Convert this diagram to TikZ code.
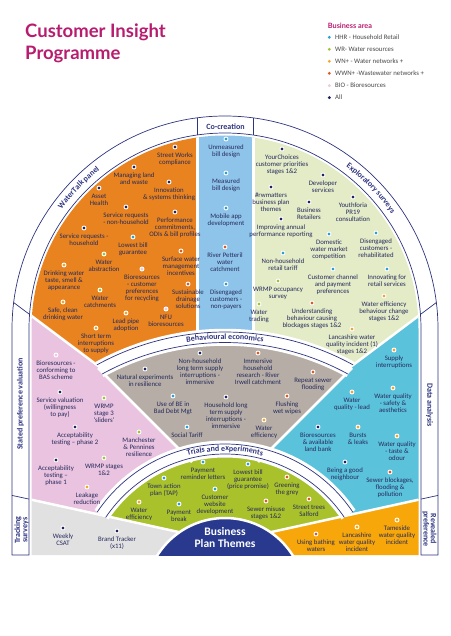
\documentclass[tikz,border=0pt]{standalone}
\usepackage{fontspec}
\setmainfont{Carlito}
\newfontfamily\titlefont{Lato}
\usetikzlibrary{positioning,decorations.text}

\definecolor{linec}{HTML}{2E3480}
\definecolor{txtc}{HTML}{262A5C}
\definecolor{titlec}{HTML}{B71C6E}
\definecolor{wtorange}{HTML}{E8831F}
\definecolor{ccblue}{HTML}{8EC4E9}
\definecolor{exgreen}{HTML}{E3EBC7}
\definecolor{sppink}{HTML}{E9C3DF}
\definecolor{tsgray}{HTML}{E1E1E1}
\definecolor{begray}{HTML}{B5ADA6}
\definecolor{dateal}{HTML}{5BC2DC}
\definecolor{rporange}{HTML}{F7A70A}
\definecolor{telime}{HTML}{A9C22B}
\definecolor{bpblue}{HTML}{293A8E}
\definecolor{hhr}{HTML}{2F9FD0}
\definecolor{wr}{HTML}{A4C13A}
\definecolor{wn}{HTML}{F0A72E}
\definecolor{wwn}{HTML}{D95B27}
\definecolor{bio}{HTML}{EBC9DF}
\definecolor{allc}{HTML}{1F2360}

\tikzset{
  itemdot/.style={circle, inner sep=0pt, minimum size=4pt, draw=white, line width=0.9pt},
  txt/.style={align=center, inner sep=0pt, text=txtc, font=\fontsize{6.8}{7}\selectfont},
  whitegap/.style={white, line width=2.5pt},
  bandline/.style={linec, line width=0.7pt},
  bandlabel/.style={inner sep=0pt, text=linec, font=\bfseries\fontsize{8}{7.2}\selectfont},
  legdot/.style={circle, inner sep=0pt, minimum size=3.2pt},
  legtxt/.style={anchor=base west, inner sep=0pt, text=black!72, font=\fontsize{6.8}{8}\selectfont}
}

\begin{document}
\begin{tikzpicture}[x=1pt,y=-1pt]
\useasboundingbox (0,0) rectangle (450,636);
\coordinate (top) at (225,329); % centre of outer ring
\coordinate (bot) at (225,598); % centre of inner rings

% title and legend
\node[anchor=base west, inner sep=0pt, text=titlec, font=\titlefont\bfseries\fontsize{18.5}{22}\selectfont] (title1) at (25,37.3) {Customer Insight};
\node[anchor=base west, inner sep=0pt, text=titlec, font=\titlefont\bfseries\fontsize{18.5}{22}\selectfont] (title2) at (25,60) {Programme};
\node[anchor=base west, inner sep=0pt, text=titlec, font=\titlefont\bfseries\fontsize{7.3}{9}\selectfont] (legtitle) at (327.7,28.6) {Business area};
\foreach \y/\c/\t [count=\i] in {37.3/hhr/{HHR - Household Retail}, 49.3/wr/{WR- Water resources}, 61.3/wn/{WN+ - Water networks +}, 73.3/wwn/{WWN+ -Wastewater networks +}, 85.6/bio/{BIO - Bioresources}, 97.6/allc/{All}}
{
  \node[legdot, fill=\c] (ld\i) at (329.3,\y) {};
  \node[legtxt] (lt\i) at (335,\y+2.3) {\t};
}

% coloured areas
\begin{scope}
  \clip (31.5,555) -- (31.5,329) arc[start angle=180, end angle=360, radius=193.5] -- (418.5,555) -- cycle;
  \fill[wtorange] (0,80) -- (197.5,80) -- (197.5,440.4) -- (0,292.25) -- cycle;
  \fill[ccblue] (197.5,80) rectangle (253.5,470);
  \fill[exgreen] (253.5,80) -- (450,80) -- (450,292.25) -- (253.5,439.6) -- cycle;
  \fill[sppink] (0,292.25) -- (225,461) -- (225,542.2) -- (0,492.7) -- cycle;
  \fill[tsgray] (0,492.7) -- (225,542.2) -- (225,560) -- (0,560) -- cycle;
  \fill[dateal] (450,292.25) -- (225,461) -- (225,542.2) -- (450,492.7) -- cycle;
  \fill[rporange] (450,492.7) -- (225,542.2) -- (225,560) -- (450,560) -- cycle;
  \begin{scope}
    \clip (bot) circle[radius=254];
    \fill[begray] (100,300) -- (100,370) -- (190,460) -- (260,460) -- (350,370) -- (350,300) -- cycle;
  \end{scope}
  \begin{scope}
    \clip (bot) circle[radius=140.5];
    \fill[telime] (0,492.7) -- (225,542.2) -- (450,492.7) -- (450,400) -- (0,400) -- cycle;
  \end{scope}
  % white gaps
  \draw[whitegap] (31,315.5) -- (104,370.25);
  \draw[whitegap] (419,315.5) -- (346,370.25);
  \draw[whitegap] (98,368) -- (192,462);
  \draw[whitegap] (352,368) -- (258,462);
  \draw[whitegap] (197.5,100) -- (197.5,340);
  \draw[whitegap] (253.5,100) -- (253.5,340);
  \draw[whitegap] (31,499.6) -- (225,542.2) -- (419,499.6);
\end{scope}

% inner rings
\draw[white, line width=17pt] ([shift={(bot)}]241.2:260.75) arc[start angle=241.2, end angle=298.8, radius=260.75];
\draw[bandline] ([shift={(bot)}]241.2:266) arc[start angle=241.2, end angle=298.8, radius=266];
\draw[bandline] ([shift={(bot)}]241.2:255.5) arc[start angle=241.2, end angle=298.8, radius=255.5];
\draw[white, line width=17pt] ([shift={(bot)}]214:149) arc[start angle=214, end angle=326, radius=149];
\draw[bandline] ([shift={(bot)}]214:154) arc[start angle=214, end angle=326, radius=154];
\draw[bandline] ([shift={(bot)}]214:144) arc[start angle=214, end angle=326, radius=144];

% business plan themes
\begin{scope}
  \clip (0,0) rectangle (450,555);
  \filldraw[fill=bpblue, draw=white, line width=2.5pt] (bot) circle[radius=80];
\end{scope}
\node[align=center, inner sep=0pt, text=white, font=\bfseries\fontsize{11.5}{12}\selectfont] (bpt) at (225,538) {Business\\Plan Themes};

% outer ring
\draw[bandline] (12,555) -- (29,555) -- (29,329) arc[start angle=180, end angle=360, radius=196] -- (421,555) -- (438,555) -- (438,329) arc[start angle=0, end angle=-180, radius=213] -- cycle;
\draw[bandline] (13.6,302.5) -- (29.55,314.4);
\draw[bandline] (436.4,302.5) -- (420.45,314.4);
\draw[bandline] (12,495.4) -- (29,499.1);
\draw[bandline] (438,495.4) -- (421,499.1);
\draw[bandline] (197.5,117.8) -- (197.5,134.9);
\draw[bandline] (253.5,117.9) -- (253.5,135.1);

% ring labels
\node[bandlabel] (cc) at (225.5,126.5) {Co-creation};
\node[bandlabel, rotate=90] (sp) at (20.5,404) {Stated preference valuation};
\node[bandlabel, rotate=90, align=center] (ts) at (21.5,530) {Tracking\\surveys};
\node[bandlabel, rotate=-90] (da) at (429.5,405) {Data analysis};
\node[bandlabel, rotate=-90, align=center] (rp) at (429.5,529) {Revealed\\preference};
\path[decorate, decoration={text along path, text align=center, text color=linec, text={|\bfseries\fontsize{8}{9}\selectfont|WaterTalk panel}}] ([shift={(top)}]194:202.5) arc[start angle=194, end angle=254, radius=202.5];
\path[decorate, decoration={text along path, text align=center, text color=linec, text={|\bfseries\fontsize{8}{9}\selectfont|Exploratory surveys}}] ([shift={(top)}]286:202.5) arc[start angle=286, end angle=346, radius=202.5];
\path[decorate, decoration={text along path, text align=center, text color=linec, text={|\bfseries\fontsize{8}{9}\selectfont|Behavioural economics}}] ([shift={(bot)}]250:258.8) arc[start angle=250, end angle=290, radius=258.8];
\path[decorate, decoration={text along path, text align=center, text color=linec, text={|\bfseries\fontsize{8}{9}\selectfont|Trials and experiments}}] ([shift={(bot)}]235:147) arc[start angle=235, end angle=305, radius=147];

% watertalk panel
\foreach \x/\y/\c/\t [count=\i] in {175/147/allc/{Street Works\\compliance}, 134/167/allc/{Managing land\\and waste}, 99/188/allc/{Asset\\Health}, 169/182/allc/{Innovation\\\& systems thinking}, 126/207/allc/{Service requests\\- non-household}, 175/212/allc/{Performance\\commitments,\\ODIs \& bill profiles}, 84/228/allc/{Service requests -\\household}, 133/237/hhr/{Lowest bill\\guarantee}, 104/254/wr/{Water\\abstraction}, 181/251/wwn/{Surface water\\management\\incentives}, 64/265/wn/{Drinking water\\taste, smell \&\\appearance}, 142/269/bio/{Bioresources\\- customer\\preferences\\for recycling}, 100/290/wr/{Water\\catchments}, 188/284/wwn/{Sustainable\\drainage\\solutions}, 63/302/wn/{Safe, clean\\drinking water}, 126/313/wn/{Lead pipe\\adoption}, 166/309/bio/{NFU\\bioresources}, 96/328/wn/{Short term\\interruptions\\to supply}}
{
  \node[itemdot, fill=\c] (wt\i) at (\x,\y) {};
  \node[txt, below=3.3pt of wt\i] (wtt\i) {\t};
}

% co-creation
\foreach \x/\y/\c/\t [count=\i] in {226/139/hhr/{Unmeasured\\bill design}, 226/173/hhr/{Measured\\bill design}, 226/208/hhr/{Mobile app\\development}, 225/247/wwn/{River Petteril\\water\\catchment}, 226/284/hhr/{Disengaged\\customers -\\non-payers}}
{
  \node[itemdot, fill=\c] (cc\i) at (\x,\y) {};
  \node[txt, below=3.3pt of cc\i] (cct\i) {\t};
}

% exploratory surveys
\foreach \x/\y/\c/\t [count=\i] in {282/149/allc/{YourChoices\\customer priorities\\stages 1\&2}, 323/175/allc/{Developer\\services}, 271/187/allc/{\#rwmatters\\business plan\\themes}, 309/202/allc/{Business\\Retailers}, 353/197/allc/{Youthforia\\PR19\\consultation}, 281/219/allc/{Improving annual\\performance reporting}, 329/234/hhr/{Domestic\\water market\\competition}, 376/233/hhr/{Disengaged\\customers -\\rehabilitated}, 283/253/hhr/{Non-household\\retail tariff}, 333/269/hhr/{Customer channel\\and payment\\preferences}, 387/269/hhr/{Innovating for\\retail services}, 278/281/wr/{WRMP occupancy\\survey}, 259/304/wr/{Water\\trading}, 312/303/wwn/{Understanding\\behaviour causing\\blockages stages 1\&2}, 384/296/wn/{Water efficiency\\behaviour change\\stages 1\&2}, 352/329/wn/{Lancashire water\\quality incident (1)\\stages 1\&2}}
{
  \node[itemdot, fill=\c] (ex\i) at (\x,\y) {};
  \node[txt, below=3.3pt of ex\i] (ext\i) {\t};
}

% stated preference valuation
\foreach \x/\y/\c/\t [count=\i] in {56/355/bio/{Bioresources -\\conforming to\\BAS scheme}, 60/392/allc/{Service valuation\\(willingness\\to pay)}, 104/398/wr/{WRMP\\stage 3\\`sliders'}, 75/427/allc/{Acceptability\\testing -- phase 2}, 139/432/wr/{Manchester\\\& Pennines\\resilience}, 56/460/allc/{Acceptability\\testing --\\phase 1}, 104/458/wr/{WRMP stages\\1\&2}, 87/487/wn/{Leakage\\reduction}}
{
  \node[itemdot, fill=\c] (sp\i) at (\x,\y) {};
  \node[txt, below=3.3pt of sp\i] (spt\i) {\t};
}

% tracking surveys
\foreach \x/\y/\c/\t [count=\i] in {63/528/allc/{Weekly\\CSAT}, 117/531/allc/{Brand Tracker\\(x11)}}
{
  \node[itemdot, fill=\c] (ts\i) at (\x,\y) {};
  \node[txt, below=3.3pt of ts\i] (tst\i) {\t};
}

% behavioural economics
\foreach \x/\y/\c/\t [count=\i] in {200/353/allc/{Non-household\\long term supply\\interruptions -\\immersive}, 258/353/wwn/{Immersive\\household\\research - River\\Irwell catchment}, 145/369/allc/{Natural experiments\\in resilience}, 313/372/wwn/{Repeat sewer\\flooding}, 173/396/hhr/{Use of BE in\\Bad Debt Mgt}, 226/397/allc/{Household long\\term supply\\interruptions -\\immersive}, 287/396/wwn/{Flushing\\wet wipes}, 187/427/hhr/{Social Tariff}, 264/420/wn/{Water\\efficiency}}
{
  \node[itemdot, fill=\c] (be\i) at (\x,\y) {};
  \node[txt, below=3.3pt of be\i] (bet\i) {\t};
}

% data analysis
\foreach \x/\y/\c/\t [count=\i] in {394/350/wn/{Supply\\interruptions}, 352/392/wn/{Water\\quality - lead}, 393/388/wn/{Water quality\\- safety \&\\aesthetics}, 318/427/allc/{Bioresources\\\& available\\land bank}, 358/427/wn/{Bursts\\\& leaks}, 397/436/wn/{Water quality\\- taste \&\\odour}, 345/462/allc/{Being a good\\neighbour}, 390/472/wwn/{Sewer blockages,\\flooding \&\\pollution}}
{
  \node[itemdot, fill=\c] (da\i) at (\x,\y) {};
  \node[txt, below=3.3pt of da\i] (dat\i) {\t};
}

% revealed preference
\foreach \x/\y/\c/\t [count=\i] in {316/534/wwn/{Using bathing\\waters}, 357/527/wn/{Lancashire\\water quality\\incident}, 397/520/wn/{Tameside\\water quality\\incident}}
{
  \node[itemdot, fill=\c] (rp\i) at (\x,\y) {};
  \node[txt, below=3.3pt of rp\i] (rpt\i) {\t};
}

% trials and experiments
\foreach \x/\y/\c/\t [count=\i] in {203/462/hhr/{Payment\\reminder letters}, 248/464/hhr/{Lowest bill\\guarantee\\(price promise)}, 164/478/hhr/{Town action\\plan (TAP)}, 287/477/wwn/{Greening\\the grey}, 215/489/hhr/{Customer\\website\\development}, 139/502/wn/{Water\\efficiency}, 179/504/hhr/{Payment\\break}, 266/501/wwn/{Sewer misuse\\stages 1\&2}, 309/499/wwn/{Street trees\\Salford}}
{
  \node[itemdot, fill=\c] (te\i) at (\x,\y) {};
  \node[txt, below=3.3pt of te\i] (tet\i) {\t};
}
\end{tikzpicture}
\end{document}
